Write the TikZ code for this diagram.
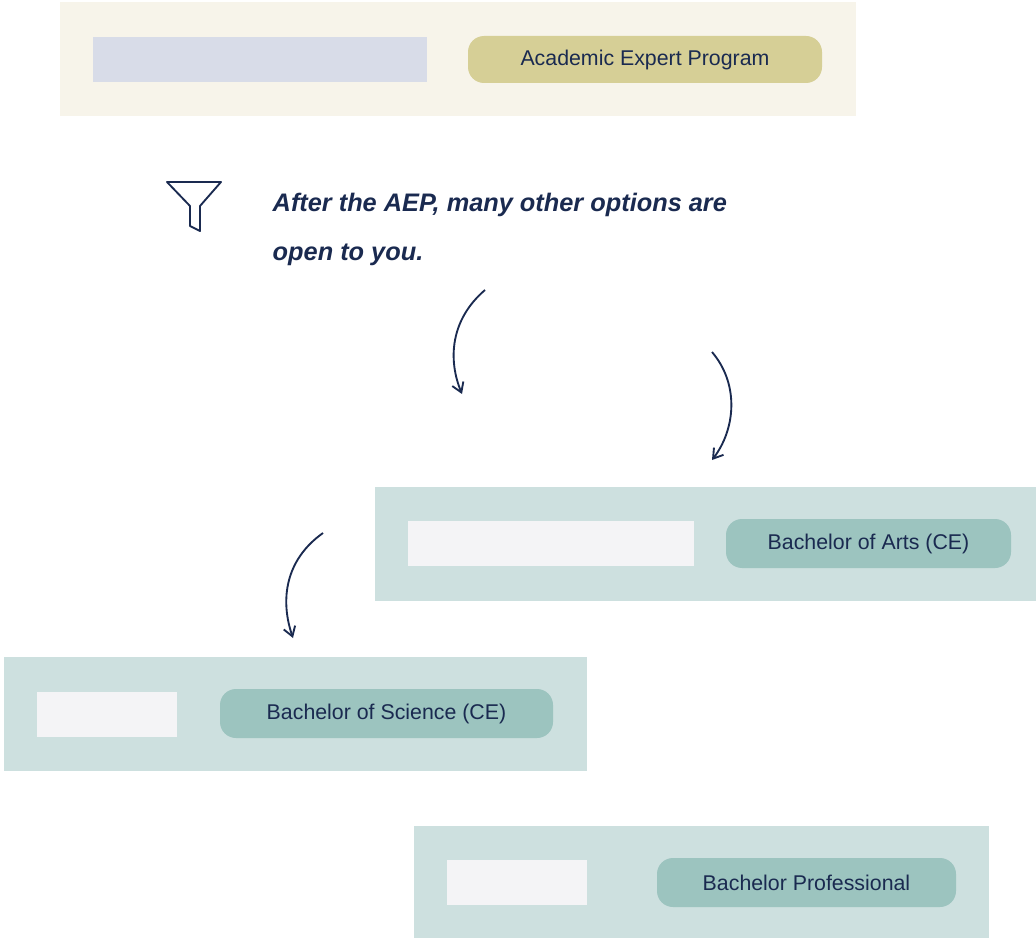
\documentclass[tikz,border=0pt]{standalone}
\usepackage{fontspec}
\setmainfont{Liberation Sans}
\usetikzlibrary{arrows.meta}
\definecolor{navy}{HTML}{1A2A50}
\definecolor{cream}{HTML}{F7F4EA}
\definecolor{grayin}{HTML}{D8DCE8}
\definecolor{gold}{HTML}{D6CF96}
\definecolor{teal1}{HTML}{CDE0DF}
\definecolor{teal2}{HTML}{9CC4BF}
\definecolor{whin}{HTML}{F4F4F6}
\tikzset{
  panel/.style={fill=#1,draw=none},
  pill/.style={fill=#1,draw=none,rounded corners=12pt},
  lbl/.style={text=navy,font=\fontsize{16}{18}\selectfont},
  hand/.style={text=navy,font=\itshape\bfseries\fontsize{19}{22}\selectfont,anchor=west},
  harrow/.style={navy,line width=1.4pt,-{Straight Barb[length=7pt,width=9pt]}}
}
\begin{document}
\begin{tikzpicture}[x=0.75pt,y=-0.75pt]
\useasboundingbox (0,0) rectangle (1036,938);
% top
\fill[panel=cream] (60,2) rectangle (856,116);
\fill[panel=grayin] (93,37) rectangle (427,82);
\fill[pill=gold] (468,36) rectangle (822,83);
\node[lbl] (aep) at (645,59.5) {Academic Expert Program};
% funnel
\draw[navy,line width=1.4pt,line join=round] (167,182) -- (221,182) -- (200,206) -- (200,231) -- (190,226) -- (190,206) -- cycle;
\node[hand] (t1) at (268,205) {After the AEP, many other options are};
\node[hand] (t2) at (268,255) {open to you.};
% arrows
\coordinate (a1s) at (485,290); \coordinate (a1e) at (462,394);
\draw[harrow] (a1s) .. controls (450,320) and (448,360) .. (a1e);
\coordinate (a2s) at (712,352); \coordinate (a2e) at (712,460);
\draw[harrow] (a2s) .. controls (740,385) and (735,430) .. (a2e);
\coordinate (a3s) at (323,533); \coordinate (a3e) at (293,638);
\draw[harrow] (a3s) .. controls (285,560) and (280,600) .. (a3e);
% BA
\fill[panel=teal1] (375,487) rectangle (1036,601);
\fill[panel=whin] (408,521) rectangle (694,566);
\fill[pill=teal2] (726,519) rectangle (1011,568);
\node[lbl] (ba) at (868.5,543.5) {Bachelor of Arts (CE)};
% BS
\fill[panel=teal1] (4,657) rectangle (587,771);
\fill[panel=whin] (37,692) rectangle (177,737);
\fill[pill=teal2] (220,689) rectangle (553,738);
\node[lbl] (bs) at (386.5,713.5) {Bachelor of Science (CE)};
% BP
\fill[panel=teal1] (414,826) rectangle (989,938);
\fill[panel=whin] (447,860) rectangle (587,905);
\fill[pill=teal2] (657,858) rectangle (956,907);
\node[lbl] (bp) at (806.5,882.5) {Bachelor Professional};
\end{tikzpicture}
\end{document}
